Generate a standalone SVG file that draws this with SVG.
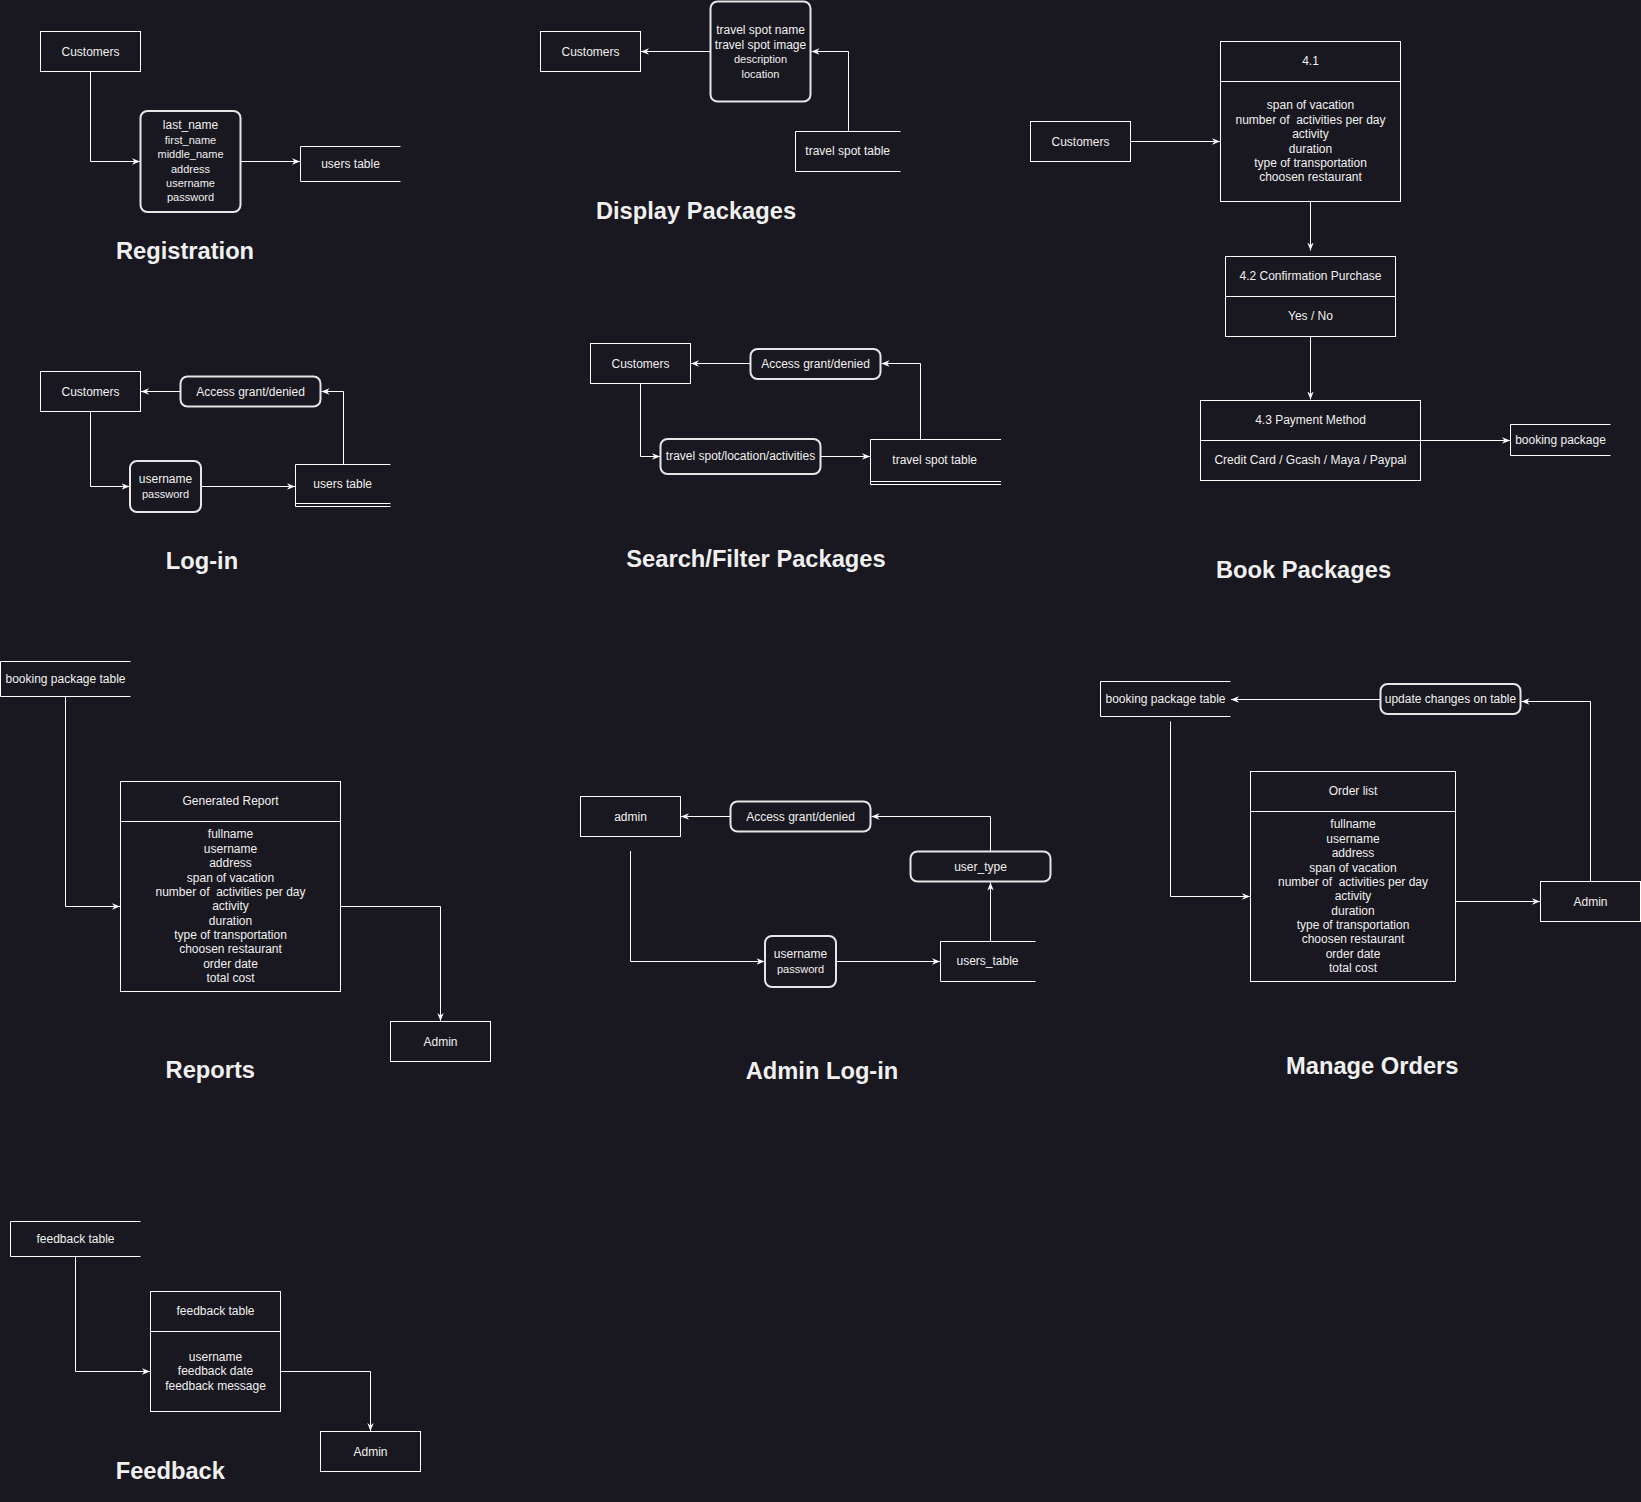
<svg xmlns="http://www.w3.org/2000/svg" width="1641" height="1502" viewBox="0 0 1641 1502">
<style>
.box{fill:none;stroke:#ffffff;stroke-width:1}
.rbox{fill:none;stroke:#e6e6e6;stroke-width:2}
.ln{fill:none;stroke:#ffffff;stroke-width:1;marker-end:url(#arr)}
.pl{fill:none;stroke:#ffffff;stroke-width:1}
text{font-family:"Liberation Sans",Arial,Helvetica,sans-serif;fill:#f0f0f0;text-anchor:middle;white-space:pre}
.t{font-size:12px}
.s{font-size:11px}
.title{font-size:23.7px;font-weight:bold}
</style>
<defs>
<marker id="arr" viewBox="0 0 10 10" refX="10" refY="5" markerWidth="8" markerHeight="8" markerUnits="userSpaceOnUse" orient="auto"><path d="M0,1 L10,5 L0,9 L3,5 z" fill="#ffffff"/></marker>
</defs>
<rect x="0" y="0" width="1641" height="1502" fill="#19171f"/>

<g id="connectors">
<path class="ln" d="M90.5,71.5 V161.5 H140"/>
<path class="ln" d="M240.5,161.5 H300"/>
<path class="ln" d="M710,51.5 H641"/>
<path class="ln" d="M848.5,131.5 V51.5 H811.5"/>
<path class="ln" d="M1130.5,141.5 H1220"/>
<path class="ln" d="M1310.5,201.5 V250.5"/>
<path class="ln" d="M1310.5,336.5 V399.5"/>
<path class="ln" d="M1420.5,440.5 H1510"/>
<path class="ln" d="M180,391.5 H141"/>
<path class="ln" d="M90.5,411.5 V486.5 H129.5"/>
<path class="ln" d="M201,486.5 H295"/>
<path class="ln" d="M343.5,464.5 V391.5 H321.5"/>
<path class="ln" d="M750,363.5 H691"/>
<path class="ln" d="M640.5,383.5 V456.5 H660"/>
<path class="ln" d="M821,456.5 H870"/>
<path class="ln" d="M920.5,439.5 V363.5 H881.5"/>
<path class="ln" d="M65.5,696.5 V906.5 H120"/>
<path class="ln" d="M340.5,906.5 H440.5 V1021"/>
<path class="ln" d="M730,816.5 H681"/>
<path class="ln" d="M990.5,851.5 V816.5 H871.5"/>
<path class="ln" d="M630.5,851 V961.5 H764.5"/>
<path class="ln" d="M836,961.5 H940"/>
<path class="ln" d="M990.5,941.5 V882.5"/>
<path class="ln" d="M1380,699.5 H1231"/>
<path class="ln" d="M1590.5,881.5 V701.5 H1521.5"/>
<path class="ln" d="M1170.5,721.5 V896.5 H1250"/>
<path class="ln" d="M1455.5,901.5 H1540"/>
<path class="ln" d="M75.5,1256.5 V1371.5 H150"/>
<path class="ln" d="M280.5,1371.5 H370.5 V1431"/>
</g>

<!-- Registration -->
<g id="reg-customers"><rect class="box" x="40.5" y="31.5" width="100" height="40"/><text class="t" x="90.5" y="55.5">Customers</text></g>
<g id="reg-process"><rect class="rbox" x="140.5" y="111" width="100" height="101" rx="7"/>
<text class="t" x="190.5" y="129">last_name</text>
<text class="s" x="190.5" y="144">first_name</text>
<text class="s" x="190.5" y="158.3">middle_name</text>
<text class="s" x="190.5" y="173.3">address</text>
<text class="s" x="190.5" y="187.3">username</text>
<text class="s" x="190.5" y="201.3">password</text></g>
<g id="reg-users-table"><path class="pl" d="M400.5,146.5 H300.5 V181.5 H400.5"/><text class="t" x="350.5" y="167.5">users table</text></g>
<text class="title" x="185" y="259">Registration</text>

<!-- Display Packages -->
<g id="dp-customers"><rect class="box" x="540.5" y="31.5" width="100" height="40"/><text class="t" x="590.5" y="55.5">Customers</text></g>
<g id="dp-process"><rect class="rbox" x="710.5" y="1.5" width="100" height="100" rx="7"/>
<text class="t" x="760.5" y="34">travel spot name</text>
<text class="t" x="760.5" y="48.6">travel spot image</text>
<text class="s" x="760.5" y="63.3">description</text>
<text class="s" x="760.5" y="77.6">location</text></g>
<g id="dp-travel-spot-table"><path class="pl" d="M900.5,131.5 H795.5 V171.5 H900.5"/><text class="t" x="847.7" y="155.3">travel spot table</text></g>
<text class="title" x="696" y="219">Display Packages</text>

<!-- Book Packages -->
<g id="bp-customers"><rect class="box" x="1030.5" y="121.5" width="100" height="40"/><text class="t" x="1080.5" y="145.5">Customers</text></g>
<g id="bp-41"><rect class="box" x="1220.5" y="41.5" width="180" height="160"/><path class="pl" d="M1220.5,81.5 H1400.5"/>
<text class="t" x="1310.5" y="65.3">4.1</text>
<text class="t" x="1310.5" y="108.9">span of vacation</text>
<text class="t" x="1310.5" y="123.9">number of  activities per day</text>
<text class="t" x="1310.5" y="138.2">activity</text>
<text class="t" x="1310.5" y="152.9">duration</text>
<text class="t" x="1310.5" y="167.2">type of transportation</text>
<text class="t" x="1310.5" y="180.7">choosen restaurant</text></g>
<g id="bp-42"><rect class="box" x="1225.5" y="256.5" width="170" height="80"/><path class="pl" d="M1225.5,296.5 H1395.5"/>
<text class="t" x="1310.5" y="280">4.2 Confirmation Purchase</text>
<text class="t" x="1310.5" y="320">Yes / No</text></g>
<g id="bp-43"><rect class="box" x="1200.5" y="400.5" width="220" height="80"/><path class="pl" d="M1200.5,440.5 H1420.5"/>
<text class="t" x="1310.5" y="423.6">4.3 Payment Method</text>
<text class="t" x="1310.5" y="463.6">Credit Card / Gcash / Maya / Paypal</text></g>
<g id="bp-booking-package"><path class="pl" d="M1610.5,424.5 H1510.5 V455.5 H1610.5"/><text class="t" x="1560.5" y="444.3">booking package</text></g>
<text class="title" x="1303.5" y="578">Book Packages</text>

<!-- Log-in -->
<g id="li-customers"><rect class="box" x="40.5" y="371.5" width="100" height="40"/><text class="t" x="90.5" y="395.5">Customers</text></g>
<g id="li-access"><rect class="rbox" x="180.5" y="376.5" width="140" height="30" rx="7"/><text class="t" x="250.5" y="395.5">Access grant/denied</text></g>
<g id="li-credentials"><rect class="rbox" x="130" y="461" width="71" height="51" rx="7"/><text class="t" x="165.5" y="483">username</text><text class="s" x="165.5" y="498.3">password</text></g>
<g id="li-users-table"><path class="pl" d="M390.5,464.5 H295.5 V506.5 H390.5"/><path class="pl" d="M295.5,503.5 H390.5"/><text class="t" x="342.7" y="488">users table</text></g>
<text class="title" x="202" y="569">Log-in</text>

<!-- Search/Filter Packages -->
<g id="sf-customers"><rect class="box" x="590.5" y="343.5" width="100" height="40"/><text class="t" x="640.5" y="368">Customers</text></g>
<g id="sf-access"><rect class="rbox" x="750.5" y="349" width="130" height="30" rx="7"/><text class="t" x="815.5" y="368">Access grant/denied</text></g>
<g id="sf-filter"><rect class="rbox" x="660.5" y="439" width="160" height="35" rx="7"/><text class="t" x="740.5" y="460.3">travel spot/location/activities</text></g>
<g id="sf-travel-spot-table"><path class="pl" d="M1001,439.5 H870.5 V484.5 H1001"/><path class="pl" d="M870.5,481.5 H1001"/><text class="t" x="934.7" y="463.5">travel spot table</text></g>
<text class="title" x="756" y="566.7">Search/Filter Packages</text>

<!-- Reports -->
<g id="rp-booking-table"><path class="pl" d="M130.5,661.5 H0.5 V696.5 H130.5"/><text class="t" x="65.5" y="683.3">booking package table</text></g>
<g id="rp-report"><rect class="box" x="120.5" y="781.5" width="220" height="210"/><path class="pl" d="M120.5,821.5 H340.5"/>
<text class="t" x="230.5" y="805">Generated Report</text>
<text class="t" x="230.5" y="838">fullname</text>
<text class="t" x="230.5" y="853">username</text>
<text class="t" x="230.5" y="867">address</text>
<text class="t" x="230.5" y="882">span of vacation</text>
<text class="t" x="230.5" y="896">number of  activities per day</text>
<text class="t" x="230.5" y="910.3">activity</text>
<text class="t" x="230.5" y="925">duration</text>
<text class="t" x="230.5" y="939">type of transportation</text>
<text class="t" x="230.5" y="953">choosen restaurant</text>
<text class="t" x="230.5" y="968">order date</text>
<text class="t" x="230.5" y="982">total cost</text></g>
<g id="rp-admin"><rect class="box" x="390.5" y="1021.5" width="100" height="40"/><text class="t" x="440.5" y="1045.5">Admin</text></g>
<text class="title" x="210.3" y="1078.3">Reports</text>

<!-- Admin Log-in -->
<g id="al-admin"><rect class="box" x="580.5" y="796.5" width="100" height="40"/><text class="t" x="630.5" y="820.5">admin</text></g>
<g id="al-access"><rect class="rbox" x="730.5" y="801.5" width="140" height="30" rx="7"/><text class="t" x="800.5" y="820.5">Access grant/denied</text></g>
<g id="al-user-type"><rect class="rbox" x="910.5" y="851.5" width="140" height="30" rx="7"/><text class="t" x="980.5" y="870.5">user_type</text></g>
<g id="al-credentials"><rect class="rbox" x="765" y="936" width="71" height="51" rx="7"/><text class="t" x="800.5" y="958">username</text><text class="s" x="800.5" y="973">password</text></g>
<g id="al-users-table"><path class="pl" d="M1035.5,941.5 H940.5 V981.5 H1035.5"/><text class="t" x="987.5" y="965.3">users_table</text></g>
<text class="title" x="822" y="1079">Admin Log-in</text>

<!-- Manage Orders -->
<g id="mo-booking-table"><path class="pl" d="M1230.5,681.5 H1100.5 V716.5 H1230.5"/><text class="t" x="1165.5" y="703.3">booking package table</text></g>
<g id="mo-update"><rect class="rbox" x="1380.5" y="684" width="140" height="30" rx="7"/><text class="t" x="1450.5" y="703.3">update changes on table</text></g>
<g id="mo-order-list"><rect class="box" x="1250.5" y="771.5" width="205" height="210"/><path class="pl" d="M1250.5,811.5 H1455.5"/>
<text class="t" x="1353" y="795">Order list</text>
<text class="t" x="1353" y="828">fullname</text>
<text class="t" x="1353" y="843">username</text>
<text class="t" x="1353" y="857">address</text>
<text class="t" x="1353" y="872">span of vacation</text>
<text class="t" x="1353" y="886">number of  activities per day</text>
<text class="t" x="1353" y="900.3">activity</text>
<text class="t" x="1353" y="915">duration</text>
<text class="t" x="1353" y="929">type of transportation</text>
<text class="t" x="1353" y="943">choosen restaurant</text>
<text class="t" x="1353" y="958">order date</text>
<text class="t" x="1353" y="972">total cost</text></g>
<g id="mo-admin"><rect class="box" x="1540.5" y="881.5" width="100" height="40"/><text class="t" x="1590.5" y="905.5">Admin</text></g>
<text class="title" x="1372.3" y="1074">Manage Orders</text>

<!-- Feedback -->
<g id="fb-feedback-table"><path class="pl" d="M140.5,1221.5 H10.5 V1256.5 H140.5"/><text class="t" x="75.5" y="1243.3">feedback table</text></g>
<g id="fb-process"><rect class="box" x="150.5" y="1291.5" width="130" height="120"/><path class="pl" d="M150.5,1331.5 H280.5"/>
<text class="t" x="215.5" y="1315.3">feedback table</text>
<text class="t" x="215.5" y="1361">username</text>
<text class="t" x="215.5" y="1375">feedback date</text>
<text class="t" x="215.5" y="1390">feedback message</text></g>
<g id="fb-admin"><rect class="box" x="320.5" y="1431.5" width="100" height="40"/><text class="t" x="370.5" y="1455.5">Admin</text></g>
<text class="title" x="170.3" y="1478.7">Feedback</text>
</svg>
